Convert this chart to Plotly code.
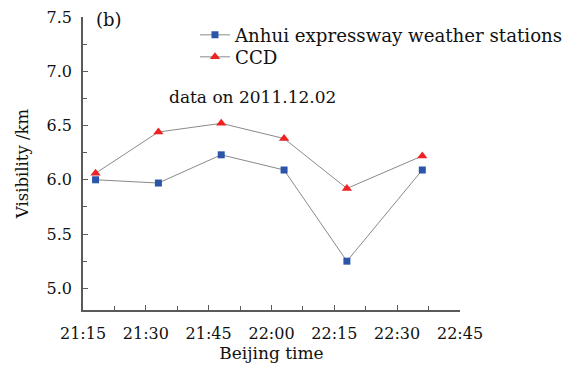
import plotly.graph_objects as go

times = ["2011-12-02 21:18", "2011-12-02 21:33", "2011-12-02 21:48",
         "2011-12-02 22:03", "2011-12-02 22:18", "2011-12-02 22:36"]
anhui = [6.00, 5.97, 6.23, 6.09, 5.25, 6.09]
ccd = [6.06, 6.44, 6.52, 6.38, 5.92, 6.22]

FONT = "DejaVu Serif"
AX = "#5a5a5a"

fig = go.Figure()
fig.add_trace(go.Scatter(
    x=times, y=anhui, mode="lines+markers", name="Anhui expressway weather stations",
    line=dict(color="#8a8a8a", width=1),
    marker=dict(symbol="square", size=7, color="#2a55a8"),
    legend="legend",
))
fig.add_trace(go.Scatter(
    x=times, y=ccd, mode="lines+markers", name="CCD",
    line=dict(color="#8a8a8a", width=1),
    marker=dict(symbol="triangle-up", size=9, color="#ee2222"),
    legend="legend2",
))

fig.add_annotation(text="(b)", xref="paper", yref="paper", x=0.030, y=0.99,
                   xanchor="left", yanchor="middle", showarrow=False,
                   font=dict(family=FONT, size=18, color="#111"))
fig.add_annotation(text="data on 2011.12.02", xref="paper", yref="paper", x=0.222, y=0.727,
                   xanchor="left", yanchor="middle", showarrow=False,
                   font=dict(family=FONT, size=17, color="#111"))

leg_common = dict(xanchor="left", yanchor="middle", bgcolor="rgba(0,0,0,0)",
                  font=dict(family=FONT, size=18.2, color="#111"), borderwidth=0)

fig.update_layout(
    width=577, height=369,
    margin=dict(l=83, r=117, t=17, b=59, autoexpand=False),
    paper_bgcolor="white", plot_bgcolor="white",
    font=dict(family=FONT, size=16, color="#111"),
    showlegend=True,
    legend=dict(x=0.297, y=(310 - 35) / 293, **leg_common),
    legend2=dict(x=0.297, y=(310 - 57) / 293, **leg_common),
    xaxis=dict(
        type="date", range=["2011-12-02 21:15", "2011-12-02 22:45"],
        tick0="2011-12-02 21:15", dtick=900000, tickformat="%H:%M",
        automargin=False,
        showgrid=False, zeroline=False, showline=True, linecolor=AX, linewidth=1.5,
        ticks="inside", ticklen=5, tickcolor=AX, tickwidth=1,
        ticklabelstandoff=8,
        minor=dict(ticks="inside", ticklen=4, dtick=450000, tick0="2011-12-02 21:15",
                   tickcolor=AX, showgrid=False),
        title=dict(text="Beijing time", standoff=5, font=dict(family=FONT, size=17)),
        tickfont=dict(family=FONT, size=16),
    ),
    yaxis=dict(
        range=[4.8, 7.5], tick0=5.0, dtick=0.5, tickformat=".1f",
        automargin=False,
        showgrid=False, zeroline=False, showline=True, linecolor=AX, linewidth=1.5,
        ticks="inside", ticklen=5, tickcolor=AX, tickwidth=1,
        ticklabelstandoff=6,
        minor=dict(ticks="inside", ticklen=4, dtick=0.25, tick0=5.0, tickcolor=AX, showgrid=False),
        title=dict(text="Visibility /km", standoff=14, font=dict(family=FONT, size=16.5)),
        tickfont=dict(family=FONT, size=16),
    ),
)

fig.write_html("out.html", config={"displayModeBar": False},
               post_script="document.body.style.margin='0';document.body.style.padding='0';")
